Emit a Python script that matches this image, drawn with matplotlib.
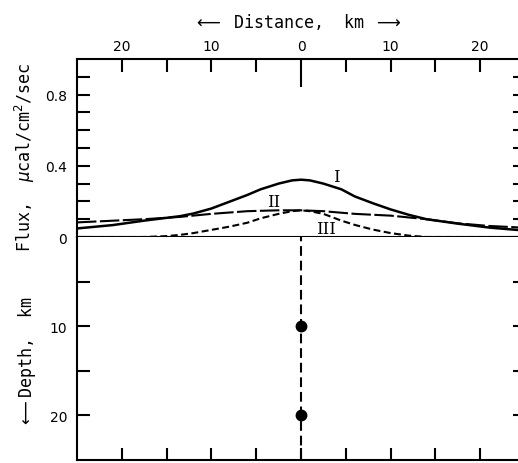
import matplotlib
matplotlib.use("Agg")
import matplotlib.pyplot as plt

plt.rcParams["lines.scale_dashes"] = False
plt.rcParams["font.family"] = ["DejaVu Sans"]

# distance (km) and flux (ucal/cm^2/sec)
dist_I = [-25, -21, -17.5, -13.5, -12, -10, -8, -6, -4.5, -2.5, -1, 0, 1, 2.5, 4.5, 6, 8, 10, 12, 14, 17.5, 21, 25]
flux_I = [0.048, 0.067, 0.092, 0.117, 0.132, 0.16, 0.198, 0.236, 0.268, 0.30, 0.318, 0.322, 0.318, 0.30, 0.268, 0.228, 0.19, 0.155, 0.125, 0.10, 0.075, 0.053, 0.036]

dist_II = [-25, -20, -17.5, -13.5, -10, -6, -2.5, 0, 2.5, 6, 10, 14, 17.5, 21, 25]
flux_II = [0.082, 0.094, 0.10, 0.113, 0.13, 0.145, 0.15, 0.15, 0.145, 0.13, 0.12, 0.10, 0.077, 0.062, 0.052]

dist_III = [-25, -17.5, -15, -13.5, -12, -10, -8, -6, -4.5, -2.5, -1, 0, 1, 2.5, 4.5, 6, 8, 10, 12, 14, 25]
flux_III = [0, 0, 0.005, 0.012, 0.022, 0.04, 0.058, 0.08, 0.105, 0.13, 0.145, 0.15, 0.145, 0.13, 0.092, 0.068, 0.042, 0.022, 0.008, 0.0, 0]

source_dist = [0, 0]
source_depth = [10, 20]

curve_labels = ["I", "II", "III"]
label_pos = [(4.0, 0.34), (-3.0, 0.20), (2.8, 0.05)]

x_major = [-20, -10, 0, 10, 20]
x_major_labels = ["20", "10", "0", "10", "20"]
x_minor = [-15, -5, 5, 15]

W, H = 518, 464
LABEL_FONT = ["DejaVu Sans Mono", "DejaVu Sans"]


def box(x0, y0, x1, y1):
    return [x0 / W, 1 - y1 / H, (x1 - x0) / W, (y1 - y0) / H]


fig = plt.figure(figsize=(W / 100, H / 100), dpi=100)
ax_f = fig.add_axes(box(77, 60, 525, 238))
ax_d = fig.add_axes(box(77, 238, 525, 461))

# flux panel
ax_f.plot(dist_I, flux_I, color="k", lw=1.8)
ax_f.plot(dist_II, flux_II, color="k", lw=1.5, dashes=(14, 2.5))
ax_f.plot(dist_III, flux_III, color="k", lw=1.5, dashes=(5, 2.5))
ax_f.axhline(0, color="k", lw=1.5, clip_on=False)
for txt, (x, y) in zip(curve_labels, label_pos):
    ax_f.text(x, y, txt, family="DejaVu Serif", fontsize=12, ha="center", va="center")

ax_f.set_xlim(-25, 25)
ax_f.set_ylim(0, 1.0)
ax_f.spines["bottom"].set_visible(False)
ax_f.xaxis.set_ticks_position("top")
ax_f.set_xticks(x_major)
ax_f.set_xticklabels(x_major_labels)
ax_f.set_xticks(x_minor, minor=True)
ax_f.set_yticks([0, 0.4, 0.8])
ax_f.set_yticklabels(["0", "0.4", "0.8"])
ax_f.set_yticks([0.1, 0.2, 0.3, 0.5, 0.6, 0.7, 0.9], minor=True)
ax_f.tick_params(axis="x", which="both", direction="in", length=9, width=1.5, pad=4, labelsize=10)
ax_f.tick_params(axis="y", which="both", direction="in", length=9, width=1.5, pad=7,
                 labelsize=10, left=True, right=True)
ax_f.xaxis.get_major_ticks()[2].tick2line.set_markersize(20)

# depth panel
ax_d.axvline(0, color="k", lw=1.5, dashes=(7, 3.5))
ax_d.plot(source_dist, source_depth, "o", color="k", ms=7.5)
ax_d.set_xlim(-25, 25)
ax_d.set_ylim(25, 0)
ax_d.spines["top"].set_visible(False)
ax_d.set_xticks(x_major + x_minor)
ax_d.tick_params(axis="x", direction="in", length=9, width=1.5, labelbottom=False)
ax_d.set_yticks([10, 20])
ax_d.set_yticks([5, 15], minor=True)
ax_d.tick_params(axis="y", which="both", direction="in", length=9, width=1.5, pad=7,
                 labelsize=10, left=True, right=True)

for ax in (ax_f, ax_d):
    for s in ax.spines.values():
        s.set_linewidth(1.5)

fig.text(297 / W, 1 - 22 / H, r"$\longleftarrow$ Distance,  km $\longrightarrow$",
         ha="center", va="center", fontsize=12, family=LABEL_FONT)
fig.text(25 / W, 1 - 157 / H, r"Flux,  $\mu$cal/cm$^2$/sec", rotation=90,
         ha="center", va="center", fontsize=12, family=LABEL_FONT)
fig.text(27 / W, 1 - 362 / H, r"$\longleftarrow$Depth,  km", rotation=90,
         ha="center", va="center", fontsize=12, family=LABEL_FONT)

fig.savefig("out.png", dpi=100)
